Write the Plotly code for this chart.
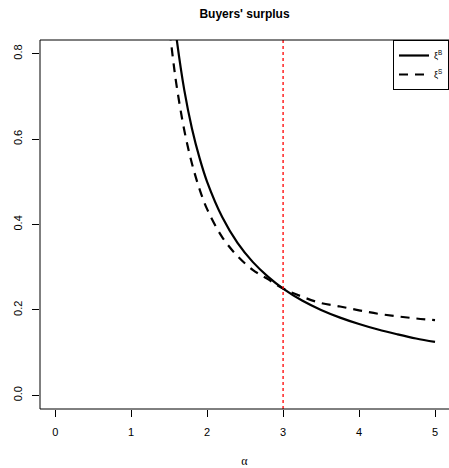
import plotly.graph_objects as go

# --- data ---
alpha_b = [1.55, 1.6, 1.7, 1.8, 1.9, 2.0, 2.2, 2.4, 2.6, 2.8, 3.0, 3.25, 3.5, 3.75, 4.0, 4.25, 4.5, 4.75, 5.0]
xi_b = [0.909, 0.833, 0.714, 0.625, 0.556, 0.500, 0.417, 0.357, 0.3125, 0.278, 0.250, 0.222, 0.200, 0.182, 0.167, 0.154, 0.143, 0.133, 0.125]

alpha_s = [1.45, 1.5, 1.55, 1.6, 1.7, 1.8, 1.9, 2.0, 2.2, 2.4, 2.6, 2.8, 3.0, 3.25, 3.5, 3.75, 4.0, 4.25, 4.5, 4.75, 5.0]
xi_s = [0.964, 0.868, 0.789, 0.723, 0.620, 0.543, 0.483, 0.436, 0.370, 0.326, 0.294, 0.272, 0.250, 0.231, 0.216, 0.208, 0.199, 0.191, 0.185, 0.180, 0.176]

alpha_marker = 3
x_ticks = [0, 1, 2, 3, 4, 5]
y_ticks = [0.0, 0.2, 0.4, 0.6, 0.8]
y_tick_labels = ["0.0", "0.2", "0.4", "0.6", "0.8"]

FONT = "Liberation Sans, Arial, Helvetica, sans-serif"

fig = go.Figure()
fig.add_trace(go.Scatter(x=alpha_b, y=xi_b, mode="lines", name="ξ<sup>B</sup>",
                         line=dict(color="black", width=2.2, shape="spline")))
fig.add_trace(go.Scatter(x=alpha_s, y=xi_s, mode="lines", name="ξ<sup>S</sup>",
                         line=dict(color="black", width=2.2, dash="9px,7px", shape="spline")))

fig.add_vline(x=alpha_marker, line=dict(color="red", width=1.3, dash="dot"))

# R-style box around the plot region (right edge falls outside the page)
fig.add_shape(type="rect", xref="paper", yref="paper", x0=0, x1=1.02, y0=0, y1=1,
              line=dict(color="black", width=1), layer="above")

fig.update_layout(
    width=449, height=468,
    margin=dict(l=40, r=0, t=40, b=59, autoexpand=False),
    paper_bgcolor="white", plot_bgcolor="white",
    font=dict(family=FONT, color="black", size=11),
    title=dict(text="<b>Buyers' surplus</b>", x=0.5, xref="paper", xanchor="center",
               y=1 - 14 / 468, yref="container", yanchor="middle",
               font=dict(family=FONT, size=12, color="black")),
    showlegend=True,
    legend=dict(x=1, xanchor="right", y=1, yanchor="top",
                bordercolor="black", borderwidth=1, bgcolor="white",
                font=dict(family=FONT, size=9, color="black"),
                itemwidth=30, tracegroupgap=0),
)

fig.update_xaxes(range=[-0.2, 5.184], tickvals=x_ticks, ticks="outside", ticklen=7,
                 tickcolor="black", showgrid=False, zeroline=False, showline=False,
                 automargin=False,
                 tickfont=dict(family=FONT, size=11, color="black"),
                 ticklabelstandoff=6,
                 title=dict(text="α", font=dict(family="Liberation Serif, DejaVu Serif, serif",
                                                size=12, color="black"),
                            standoff=25))
fig.update_yaxes(range=[-0.032, 0.832], tickvals=y_ticks, ticktext=y_tick_labels,
                 ticks="outside", ticklen=7, tickcolor="black", tickangle=-90,
                 showgrid=False, zeroline=False, showline=False, automargin=False,
                 tickfont=dict(family=FONT, size=11, color="black"),
                 ticklabelstandoff=6)

fig.write_html("out.html", config={"displayModeBar": False},
               post_script="document.body.style.margin='0';document.body.style.overflow='hidden';")
